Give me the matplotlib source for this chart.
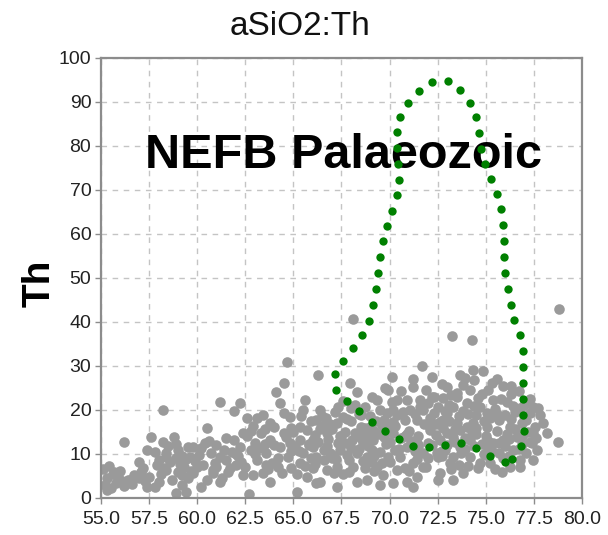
import matplotlib

matplotlib.use("Agg")
import matplotlib.pyplot as plt

plt.rcParams["font.family"] = ["Liberation Sans", "DejaVu Sans"]

# grey sample points (SiO2 wt%, Th ppm)
SIO2_55_575 = [55.1, 55.2, 55.3, 55.4, 55.5, 55.6, 55.8, 55.9, 56.0, 56.2, 56.2, 56.4, 56.5,
               56.6, 56.7, 56.8, 57.0, 57.1, 57.2, 57.3, 57.4, 57.4, 55.3, 55.7, 56.1]
TH_55_575 = [6.5, 3.0, 4.6, 7.2, 2.2, 5.5, 3.4, 4.8, 6.1, 2.8, 12.8, 4.0, 4.1,
             3.2, 5.2, 5.0, 4.5, 6.0, 6.8, 3.9, 2.5, 10.9, 1.8, 5.8, 3.9]

SIO2_575_60 = [57.5, 57.6, 57.8, 57.8, 58.0, 58.2, 58.2, 58.3, 58.4, 58.4, 58.6, 58.7, 58.8,
               58.9, 58.9, 59.0, 59.0, 59.1, 59.2, 59.3, 59.4, 59.5, 59.5, 59.6, 59.7, 59.8,
               59.8, 59.9, 58.0, 58.5, 59.2, 57.9, 58.1, 59.4, 58.9]
TH_575_60 = [4.8, 13.9, 2.5, 10.5, 8.6, 20.0, 12.7, 6.9, 10.2, 6.4, 8.2, 4.1, 13.9,
             9.1, 1.1, 5.9, 11.0, 7.8, 9.6, 7.0, 1.4, 11.6, 4.6, 9.3, 6.2, 11.6,
             5.7, 8.4, 3.6, 11.8, 3.0, 7.5, 5.4, 8.8, 12.2]

SIO2_60_625 = [60.0, 60.1, 60.3, 60.5, 60.5, 60.6, 60.7, 60.8, 60.8, 61.0, 61.2, 61.2, 61.2,
               61.4, 61.5, 61.5, 61.6, 61.8, 61.9, 61.9, 62.0, 62.2, 62.2, 62.3, 62.4, 62.4,
               60.2, 60.9, 61.7, 62.1, 60.4, 61.3]
TH_60_625 = [7.0, 9.8, 7.5, 15.9, 4.1, 12.9, 10.2, 6.4, 5.7, 12.0, 9.3, 3.6, 21.9,
             11.0, 8.6, 13.6, 5.9, 10.4, 13.2, 19.8, 7.6, 21.7, 11.6, 8.2, 14.8, 5.2,
             2.4, 8.0, 6.8, 9.5, 12.6, 4.6]

SIO2_625_65 = [62.5, 62.6, 62.7, 62.9, 63.0, 63.1, 63.1, 63.3, 63.4, 63.4, 63.6, 63.8, 63.8,
               63.8, 63.9, 64.1, 64.3, 64.3, 64.4, 64.5, 64.5, 64.5, 64.65, 64.7, 64.8, 64.8,
               64.9, 62.8, 63.2, 63.5, 63.7, 64.0, 64.2, 64.6, 62.6, 63.0, 64.0, 64.9, 63.6, 62.9]
TH_625_65 = [7.0, 18.2, 0.8, 5.2, 12.5, 18.1, 8.6, 14.8, 18.9, 5.7, 10.2, 17.0, 13.2,
             3.6, 8.0, 24.1, 11.6, 21.6, 5.7, 26.1, 14.8, 19.3, 31.0, 9.3, 12.5, 18.4,
             6.8, 10.8, 11.4, 15.6, 6.5, 16.2, 9.0, 13.8, 14.0, 9.9, 12.0, 10.6, 7.4, 16.3]

SIO2_65_675 = [65.0, 65.2, 65.35, 65.35, 65.35, 65.5, 65.5, 65.7, 65.7, 66.0, 66.0, 66.0, 66.2,
               66.2, 66.2, 66.3, 66.4, 66.4, 66.75, 66.75, 66.75, 66.9, 67.15, 67.25, 67.25,
               67.25, 67.3, 67.4, 65.1, 65.4, 65.6, 65.8, 65.9, 66.1, 66.5, 66.6, 66.8, 67.0,
               67.1, 67.4, 65.2, 65.9, 66.6, 67.0, 65.6, 66.3, 66.9, 67.2, 65.3, 66.5]
TH_65_675 = [15.0, 1.4, 13.2, 8.0, 16.1, 10.2, 20.0, 15.5, 4.8, 13.2, 6.8, 11.5, 17.7,
             9.3, 3.4, 28.0, 3.6, 20.0, 14.8, 6.4, 11.8, 10.2, 19.5, 17.0, 7.0,
             2.5, 12.6, 10.9, 11.8, 18.6, 7.2, 12.0, 9.0, 14.4, 16.4, 8.6, 13.4, 15.6,
             5.6, 14.2, 5.5, 17.4, 11.0, 9.2, 22.3, 12.8, 16.8, 8.8, 10.6, 18.7]

SIO2_675_70 = [67.6, 67.7, 67.7, 67.95, 68.05, 68.1, 68.1, 68.3, 68.3, 68.5, 68.6, 68.7, 68.7,
               68.8, 68.8, 69.0, 69.1, 69.15, 69.35, 69.35, 69.5, 69.5, 69.5, 69.65, 69.7,
               69.75, 69.85, 69.9, 69.9, 67.6, 67.8, 68.0, 68.2, 68.4, 68.4, 68.6, 68.9, 69.0,
               69.2, 69.3, 69.6, 69.8, 67.9, 68.2, 68.5, 69.1, 69.4, 67.6, 68.0, 68.9, 69.6,
               68.3, 69.2, 67.8, 68.7]
TH_675_70 = [22.0, 15.0, 12.5, 26.1, 13.2, 40.7, 7.0, 10.2, 3.6, 16.1, 12.5, 20.7, 6.8,
             9.3, 4.1, 16.1, 23.0, 13.2, 22.3, 7.0, 20.0, 10.5, 3.0, 5.2, 13.9,
             25.0, 19.3, 9.3, 24.6, 18.4, 9.8, 17.6, 14.8, 11.2, 19.0, 8.4, 11.8, 18.6,
             15.2, 17.4, 16.6, 12.2, 8.6, 21.2, 13.6, 10.8, 14.6, 5.4, 20.4, 14.2, 8.0,
             24.0, 6.2, 18.0, 15.8]

SIO2_70_725 = [70.1, 70.1, 70.2, 70.2, 70.4, 70.4, 70.4, 70.55, 70.8, 70.9, 70.9, 70.9, 71.05,
               71.2, 71.2, 71.2, 71.2, 71.4, 71.4, 71.6, 71.6, 71.7, 71.75, 71.75, 71.75, 71.9,
               72.1, 72.1, 72.2, 72.2, 72.3, 72.3, 72.45, 72.5, 72.5, 72.5, 70.0, 70.3, 70.6,
               70.7, 71.0, 71.1, 71.3, 71.5, 71.8, 72.0, 72.4, 70.5, 71.0, 71.5, 72.0, 70.2,
               70.8, 71.4, 72.2, 70.6, 71.9, 70.0, 71.3, 72.4]
TH_70_725 = [27.4, 21.8, 14.8, 3.4, 22.3, 18.9, 6.4, 9.3, 17.7, 22.3, 11.6, 3.6, 20.0,
             27.0, 25.3, 8.0, 2.5, 17.7, 4.8, 22.3, 20.7, 30.0, 20.0, 10.2, 7.0, 7.0,
             18.2, 16.1, 27.4, 23.0, 23.0, 19.3, 10.2, 20.7, 9.3, 4.1, 12.8, 16.4, 13.6,
             19.6, 15.2, 13.0, 10.6, 14.2, 16.8, 12.6, 14.4, 11.2, 6.2, 11.8, 9.2, 17.2,
             14.2, 8.8, 12.0, 24.4, 24.6, 8.2, 19.0, 16.8]

SIO2_725_75 = [72.6, 72.6, 72.8, 72.8, 73.0, 73.0, 73.0, 73.15, 73.25, 73.3, 73.3, 73.3, 73.5,
               73.5, 73.65, 73.65, 73.65, 73.8, 74.0, 74.2, 74.2, 74.2, 74.3, 74.35, 74.35,
               74.7, 74.7, 74.85, 72.7, 72.9, 73.1, 73.2, 73.4, 73.6, 73.7, 73.9, 74.0, 74.1,
               74.4, 74.5, 74.6, 74.8, 74.9, 72.7, 73.1, 73.4, 73.8, 74.1, 74.5, 74.9, 72.9,
               73.6, 74.3, 74.8, 73.0, 73.9, 74.6, 72.8, 74.4, 73.5]
TH_725_75 = [13.2, 5.7, 22.7, 17.7, 25.3, 14.8, 12.0, 8.0, 36.8, 20.7, 9.3, 4.1, 23.9,
             23.0, 28.0, 15.5, 11.6, 5.7, 21.6, 24.5, 9.3, 13.2, 35.9, 29.1, 17.0,
             20.7, 8.0, 28.9, 9.6, 19.8, 17.4, 6.6, 15.6, 18.6, 10.2, 13.6, 16.2, 19.0,
             11.8, 14.6, 22.8, 12.2, 17.4, 26.0, 21.2, 12.8, 25.6, 7.2, 18.8, 10.0, 11.0,
             7.6, 15.0, 23.6, 19.4, 27.2, 6.8, 15.8, 26.8, 17.0]

SIO2_75_775 = [75.05, 75.05, 75.1, 75.2, 75.4, 75.4, 75.6, 75.7, 75.7, 75.85, 75.9, 75.9, 76.1,
               76.25, 76.25, 76.4, 76.6, 76.8, 76.8, 77.1, 77.1, 77.3, 77.45, 77.45, 77.45,
               75.0, 75.2, 75.3, 75.5, 75.6, 75.8, 76.0, 76.0, 76.2, 76.3, 76.5, 76.5, 76.7,
               76.9, 77.0, 77.2, 77.4, 75.3, 75.9, 76.4, 76.9, 77.3, 75.5, 76.1, 76.7, 75.1,
               76.3, 77.0]
TH_75_775 = [16.1, 19.3, 24.5, 8.0, 22.3, 12.5, 27.0, 17.7, 10.2, 5.9, 25.5, 13.2, 21.8,
             16.1, 7.0, 10.9, 13.9, 7.0, 8.6, 17.7, 10.2, 19.3, 20.7, 14.8, 8.6,
             14.0, 18.2, 10.6, 20.2, 15.2, 22.6, 11.8, 18.8, 13.4, 23.6, 19.6, 15.6, 24.4,
             12.2, 21.2, 15.0, 12.4, 26.2, 9.2, 20.8, 17.0, 22.4, 6.6, 14.6, 11.2, 11.4,
             25.4, 18.6]

SIO2_775_80 = [77.55, 77.65, 77.7, 77.95, 78.2, 78.75, 78.82, 77.6, 77.8]
TH_775_80 = [16.1, 10.9, 20.5, 17.0, 14.8, 12.7, 43.0, 13.6, 18.8]

# extra points filling the crowded core of the cloud
SIO2_CORE = [65.8, 66.4, 67.0, 67.5, 68.0, 68.6, 69.2, 69.8, 70.3, 70.9, 71.5, 72.1, 72.7,
             73.3, 73.9, 74.5, 75.1, 75.7, 76.3, 76.9, 66.1, 66.7, 67.3, 67.9, 68.5, 69.1,
             69.7, 70.2, 70.8, 71.4, 72.0, 72.6, 73.2, 73.8, 74.4, 75.0, 75.6, 76.2, 76.8,
             77.3, 62.0, 62.8, 63.5, 64.2, 64.9, 61.0, 60.2, 59.2, 58.4, 57.0]
TH_CORE = [12.2, 15.6, 9.8, 14.0, 11.4, 15.0, 9.6, 16.2, 11.0, 14.6, 12.0, 15.4, 10.6,
           13.8, 11.2, 16.0, 13.0, 12.6, 18.0, 14.2, 7.8, 18.2, 20.6, 6.0, 18.8, 8.2,
           17.8, 20.0, 6.8, 12.4, 21.6, 17.2, 23.4, 19.8, 21.0, 9.8, 19.2, 9.6, 20.4,
           12.8, 10.0, 15.2, 12.2, 7.0, 15.8, 7.0, 11.4, 5.2, 9.4, 8.2]

# dotted green field outline, dot by dot, going round from the top
LOOP_SIO2 = [72.20, 71.51, 70.96, 70.54, 70.37, 70.40, 70.44, 70.50, 70.37, 70.12, 69.88,
             69.64, 69.50, 69.40, 69.28, 69.15, 68.91, 68.57, 68.08, 67.59, 67.18, 67.21,
             67.80, 68.43, 69.09, 69.76, 70.49, 71.23, 72.06, 72.88, 73.71, 74.51, 75.22,
             76.00, 76.35, 76.81, 77.00, 76.92, 76.93, 76.93, 76.93, 76.95, 76.78, 76.48,
             76.29, 76.13, 76.01, 75.95, 75.93, 75.89, 75.81, 75.57, 75.25, 74.94, 74.75,
             74.65, 74.49, 74.16, 73.67, 73.02]
LOOP_TH = [94.5, 92.5, 89.8, 86.7, 83.2, 79.5, 75.9, 72.3, 68.8, 65.2, 61.8,
           58.3, 54.7, 51.1, 47.5, 43.9, 40.3, 37.1, 34.2, 31.2, 28.1, 24.6,
           22.0, 19.7, 17.3, 15.3, 13.5, 11.9, 11.6, 12.1, 12.4, 11.4, 9.5,
           8.2, 8.9, 11.9, 15.3, 18.9, 22.6, 26.2, 29.8, 33.5, 37.0, 40.4,
           43.9, 47.5, 51.1, 54.7, 58.4, 62.0, 65.6, 69.1, 72.4, 75.8, 79.4,
           83.0, 86.5, 89.8, 92.7, 94.8]

X_TICKS = [55.0, 57.5, 60.0, 62.5, 65.0, 67.5, 70.0, 72.5, 75.0, 77.5, 80.0]
Y_TICKS = [0, 10, 20, 30, 40, 50, 60, 70, 80, 90, 100]

sio2 = (SIO2_55_575 + SIO2_575_60 + SIO2_60_625 + SIO2_625_65 + SIO2_65_675
        + SIO2_675_70 + SIO2_70_725 + SIO2_725_75 + SIO2_75_775 + SIO2_775_80 + SIO2_CORE)
th = (TH_55_575 + TH_575_60 + TH_60_625 + TH_625_65 + TH_65_675
      + TH_675_70 + TH_70_725 + TH_725_75 + TH_75_775 + TH_775_80 + TH_CORE)

fig = plt.figure(figsize=(6.08, 5.35), dpi=100)
ax = fig.add_axes([101 / 608, 37 / 535, 481 / 608, 440 / 535])

ax.scatter(sio2, th, s=58, color="#9a9a9a", linewidths=0, zorder=2)
ax.text(67.6, 75.0, "NEFB Palaeozoic", fontsize=35, fontweight="bold",
        ha="center", va="baseline", color="black", zorder=3)
ax.scatter(LOOP_SIO2, LOOP_TH, s=36, color="#008000", linewidths=0, zorder=4)

ax.set_xlim(55, 80)
ax.set_ylim(0, 100)
ax.set_xticks(X_TICKS)
ax.set_xticklabels([f"{v:.1f}" for v in X_TICKS])
ax.set_yticks(Y_TICKS)
ax.set_yticklabels([str(v) for v in Y_TICKS])
ax.tick_params(length=4, width=1, color="#8c8c8c", labelsize=14, labelcolor="#222222")
ax.tick_params(axis="x", pad=5)
ax.tick_params(axis="y", pad=3)
ax.set_axisbelow(True)
ax.grid(color="#c4c4c4", linestyle=(0, (4, 4)), linewidth=1.0)
for spine in ax.spines.values():
    spine.set_color("#8c8c8c")
    spine.set_linewidth(1.6)

fig.text(0.494, 1 - 35 / 535, "aSiO2:Th", fontsize=24, ha="center", va="baseline", color="#111111")
fig.text(40 / 608, 1 - 283 / 535, "Th", fontsize=28, fontweight="bold", rotation=90,
         ha="center", va="center", color="black")

fig.savefig("out.png", dpi=100)
